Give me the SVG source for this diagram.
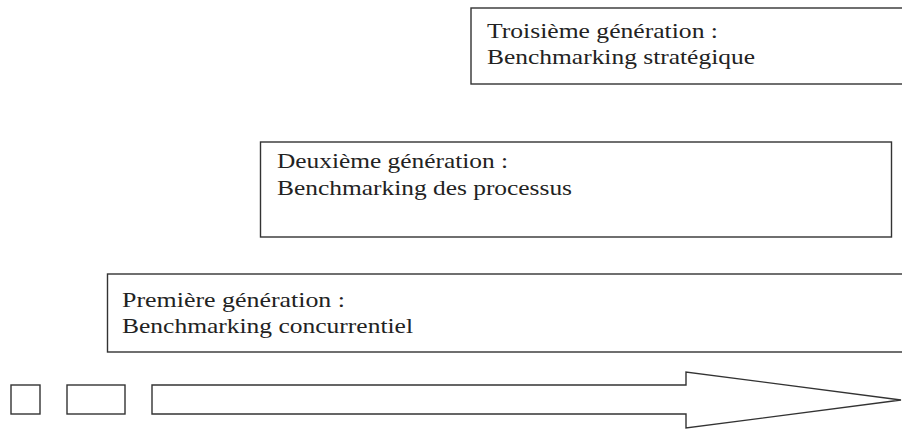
<svg xmlns="http://www.w3.org/2000/svg" width="902" height="429" viewBox="0 0 902 429">
  <style>
    .box { fill: #ffffff; stroke: #333333; stroke-width: 1.4; }
    .label { font-family: "Liberation Serif", "Times New Roman", serif; font-size: 22px; fill: #222222; }
  </style>
  <rect width="902" height="429" fill="#ffffff"/>

  <g id="gen3">
    <rect class="box" x="471" y="8" width="440" height="76"/>
    <text class="label" x="487" y="38" textLength="231" lengthAdjust="spacingAndGlyphs">Troisième génération :</text>
    <text class="label" x="487" y="64" textLength="268" lengthAdjust="spacingAndGlyphs">Benchmarking stratégique</text>
  </g>

  <g id="gen2">
    <rect class="box" x="260.5" y="142" width="631" height="95"/>
    <text class="label" x="277" y="168" textLength="231" lengthAdjust="spacingAndGlyphs">Deuxième génération :</text>
    <text class="label" x="277" y="195" textLength="295" lengthAdjust="spacingAndGlyphs">Benchmarking des processus</text>
  </g>

  <g id="gen1">
    <rect class="box" x="107.5" y="274" width="810" height="78"/>
    <text class="label" x="122" y="307" textLength="223" lengthAdjust="spacingAndGlyphs">Première génération :</text>
    <text class="label" x="122" y="333" textLength="291" lengthAdjust="spacingAndGlyphs">Benchmarking concurrentiel</text>
  </g>

  <g id="timeline">
    <rect class="box" x="11" y="385" width="29" height="29"/>
    <rect class="box" x="67" y="385" width="58" height="29"/>
    <polygon class="box" points="152,385 686,385 686,372 901,400 686,428 686,414 152,414"/>
  </g>
</svg>
